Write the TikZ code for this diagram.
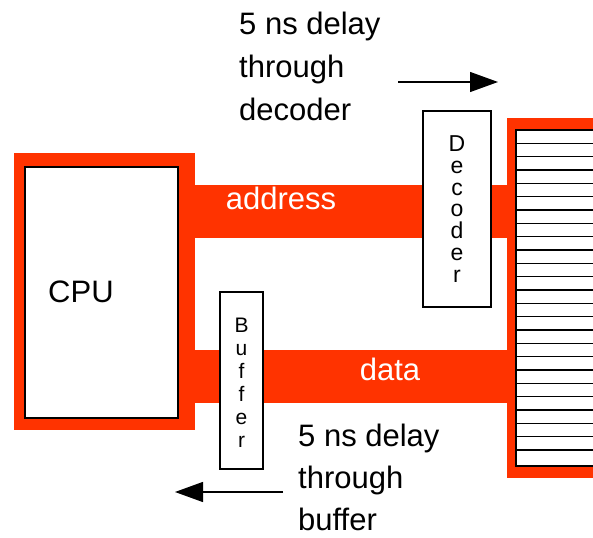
\documentclass[tikz,border=0pt]{standalone}
\usepackage{fontspec}
\setmainfont{Liberation Sans}
\usetikzlibrary{arrows.meta}
\definecolor{busred}{RGB}{255,51,0}

\tikzset{
  unitbox/.style={draw, line width=1.3pt, fill=white, inner sep=0pt},
  delayarrow/.style={-{Triangle[length=28pt,width=20pt]}, line width=1.3pt},
  note/.style={anchor=base west, align=left, inner sep=0pt, font=\fontsize{31}{43}\selectfont}
}

\begin{document}
\begin{tikzpicture}[x=1pt,y=-1pt]
\useasboundingbox (0,0) rectangle (593,537);

% CPU with red frame
\fill[busred] (14,153) rectangle (195,430);
\node[unitbox, minimum width=153pt, minimum height=251pt] (cpu) at (101.5,292.5) {};
\node[anchor=base west, inner sep=0pt, font=\fontsize{31}{36}\selectfont] (cpulabel) at (48,302) {CPU};

% address and data buses
\fill[busred] (195,185) rectangle (507,238);
\fill[busred] (195,350) rectangle (507,403);
\node[anchor=base, text=white, inner sep=0pt, font=\fontsize{31}{36}\selectfont] (addr) at (281,209) {address};
\node[anchor=base, text=white, inner sep=0pt, font=\fontsize{31}{36}\selectfont] (data) at (390,380) {data};

% memory array
\fill[busred] (507,118) rectangle (593,478);
\draw[line width=1.3pt, fill=white] (516,130) rectangle (600,466);
\foreach \k in {1,...,24}
  \draw[line width=1.3pt] (516,130+13.33*\k) -- (593,130+13.33*\k);

% decoder and buffer (labels anchored on the last letter)
\node[unitbox, minimum width=68pt, minimum height=196pt] (dec) at (457,209) {};
\node[align=center, inner sep=0pt, font=\fontsize{23}{21.7}\selectfont, anchor=base] (declabel) at (457,282) {D\\e\\c\\o\\d\\e\\r};
\node[unitbox, minimum width=43pt, minimum height=177pt] (buf) at (241.5,380.5) {};
\node[align=center, inner sep=0pt, font=\fontsize{21}{23}\selectfont, anchor=base] (buflabel) at (241.5,447) {B\\u\\f\\f\\e\\r};

% delay notes
\node[note] (decnote) at (239,121) {5 ns delay\\through\\decoder};
\coordinate (decA) at (398,82);
\coordinate (decB) at (498,82);
\draw[delayarrow] (decA) -- (decB);

\node[note, font=\fontsize{31}{42}\selectfont] (bufnote) at (298,530) {5 ns delay\\through\\buffer};
\coordinate (bufA) at (283,492);
\coordinate (bufB) at (175,492);
\draw[delayarrow] (bufA) -- (bufB);

\end{tikzpicture}
\end{document}
